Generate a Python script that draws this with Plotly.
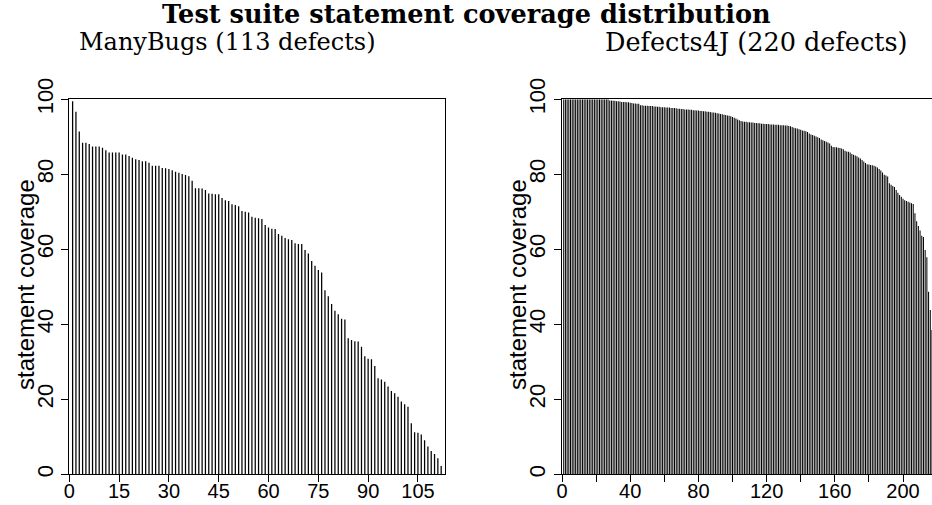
import plotly.graph_objects as go

# ---- data ----
manybugs_ids = list(range(1, 114))
manybugs_cov = [
    99.5, 96.7, 91.4, 88.4, 88.4, 88.1, 87.4, 87.4, 87.4, 87.1,
    86.4, 85.8, 85.8, 85.8, 85.8, 85.3, 85.3, 84.9, 84.4, 84.0,
    83.8, 83.5, 83.5, 83.1, 82.3, 82.3, 82.3, 81.7, 81.6, 81.4,
    81.1, 80.7, 80.4, 80.1, 79.8, 79.5, 78.3, 76.3, 76.3, 76.2,
    75.8, 74.9, 74.8, 74.7, 74.7, 73.7, 73.1, 72.9, 72.0, 71.8,
    71.5, 70.2, 70.0, 69.8, 68.7, 68.4, 68.3, 68.1, 66.5, 65.8,
    65.5, 65.4, 64.1, 63.6, 63.0, 62.7, 62.5, 61.6, 61.4, 61.4,
    59.8, 58.9, 56.9, 55.6, 54.5, 53.8, 49.1, 47.5, 45.4, 43.6,
    42.7, 41.5, 41.3, 36.3, 35.8, 35.5, 35.4, 34.0, 31.5, 30.8,
    30.7, 28.9, 25.6, 25.3, 24.7, 23.4, 22.2, 21.6, 20.7, 19.4,
    18.7, 18.0, 13.6, 11.2, 11.1, 10.6, 9.1, 7.4, 6.2, 5.4,
    4.3, 2.2, 0.0,
]

d4j_ids = list(range(1, 221))
d4j_cov = [
    100, 100, 100, 100, 100, 100, 100, 100, 100, 100,
    100, 100, 100, 100, 100, 100, 100, 100, 100, 100,
    100, 100, 100, 100, 100, 100, 100, 99.7, 99.7, 99.6,
    99.6, 99.5, 99.5, 99.4, 99.3, 99.3, 99.3, 99.2, 99.2, 99.1,
    99.0, 98.9, 98.9, 98.8, 98.8, 98.4, 98.4, 98.3, 98.3, 98.3,
    98.2, 98.2, 98.2, 98.1, 98.1, 98.0, 98.0, 97.9, 97.9, 97.9,
    97.8, 97.8, 97.8, 97.7, 97.7, 97.7, 97.6, 97.5, 97.5, 97.4,
    97.4, 97.3, 97.3, 97.3, 97.2, 97.2, 97.1, 97.1, 97.0, 97.0,
    96.9, 96.9, 96.8, 96.8, 96.7, 96.7, 96.6, 96.5, 96.5, 96.4,
    96.3, 96.2, 96.1, 96.0, 95.9, 95.8, 95.7, 95.6, 95.5, 95.3,
    95.1, 94.9, 94.6, 94.4, 94.2, 94.1, 94.0, 94.0, 93.9, 93.9,
    93.8, 93.8, 93.7, 93.7, 93.6, 93.6, 93.5, 93.5, 93.4, 93.4,
    93.4, 93.3, 93.3, 93.3, 93.2, 93.2, 93.2, 93.1, 93.1, 93.1,
    93.0, 93.0, 92.9, 92.8, 92.6, 92.4, 92.3, 92.2, 92.0, 91.9,
    91.7, 91.6, 91.5, 91.3, 90.9, 90.6, 90.5, 90.3, 90.1, 89.9,
    89.7, 89.3, 89.1, 88.9, 88.7, 88.5, 88.2, 87.6, 87.3, 87.2,
    87.2, 87.1, 87.0, 86.9, 86.7, 86.3, 86.1, 86.0, 85.8, 85.4,
    85.2, 85.0, 84.8, 84.5, 84.2, 83.8, 83.4, 83.0, 82.7, 82.6,
    82.5, 82.4, 82.3, 82.1, 81.8, 81.4, 81.0, 80.5, 79.9, 79.7,
    79.4, 77.6, 77.2, 76.9, 76.6, 75.8, 75.1, 74.5, 74.0, 73.5,
    73.1, 72.9, 72.7, 72.5, 72.3, 72.1, 69.6, 67.5, 66.2, 65.0,
    63.6, 63.3, 59.8, 57.9, 48.7, 43.8, 38.5, 31.0, 22.4, 12.0,
]

left_xticks = [0, 15, 30, 45, 60, 75, 90, 105]
right_xticks = [0, 20, 40, 60, 80, 100, 120, 140, 160, 180, 200]
right_xlabels = ["0", "", "40", "", "80", "", "120", "", "160", "", "200"]
yticks = [0, 20, 40, 60, 80, 100]

title = "Test suite statement coverage distribution"
left_title = "ManyBugs (113 defects)"
right_title = "Defects4J (220 defects)"
ylabel = "statement coverage"

# ---- figure ----
W, H = 932, 505
SANS = "Liberation Sans, Arial, sans-serif"
SERIF = "DejaVu Serif, serif"

fig = go.Figure()
fig.add_trace(go.Bar(x=manybugs_ids, y=manybugs_cov, width=0.38,
                     marker=dict(color="black", line=dict(width=0)),
                     xaxis="x", yaxis="y", showlegend=False))
fig.add_trace(go.Bar(x=d4j_ids, y=d4j_cov, width=0.6,
                     marker=dict(color="black", line=dict(width=0)),
                     xaxis="x2", yaxis="y2", showlegend=False))

ydom = [1 - 474.3 / H, 1 - 99.3 / H]
common_axis = dict(showgrid=False, zeroline=False, showline=True,
                   linecolor="black", linewidth=1, ticks="outside",
                   ticklen=7, tickwidth=1, tickcolor="black", automargin=False)
xlab_font = dict(family=SANS, size=20, color="black")
ylab_font = dict(family=SANS, size=22, color="black")

fig.update_layout(
    width=W, height=H, autosize=False,
    margin=dict(l=0, r=0, t=0, b=0, pad=0, autoexpand=False),
    paper_bgcolor="white", plot_bgcolor="white",
    xaxis=dict(domain=[69.3 / W, 444.5 / W], range=[0, 113],
               tickmode="array", tickvals=left_xticks, tickfont=xlab_font,
               ticklabelstandoff=-8, mirror=True, anchor="y", **common_axis),
    yaxis=dict(domain=ydom, range=[0, 100], tickmode="array", tickvals=yticks,
               tickangle=-90, tickfont=ylab_font,
               mirror=True, anchor="x", **common_axis),
    xaxis2=dict(domain=[562 / W, 1.0], range=[0, (W - 562) / 1.705],
                tickmode="array", tickvals=right_xticks, ticktext=right_xlabels,
                tickfont=xlab_font, ticklabelstandoff=-8,
                mirror=True, anchor="y2", **common_axis),
    yaxis2=dict(domain=ydom, range=[0, 100], tickmode="array", tickvals=yticks,
                tickangle=-90, tickfont=ylab_font,
                mirror=False, anchor="x2", **common_axis),
    annotations=[
        dict(text="<b>" + title + "</b>", x=466 / W, y=1 - 14 / H, xref="paper", yref="paper",
             xanchor="center", yanchor="middle", showarrow=False,
             font=dict(family=SERIF, size=25.6, color="black")),
        dict(text=left_title, x=227 / W, y=1 - 42 / H, xref="paper", yref="paper",
             xanchor="center", yanchor="middle", showarrow=False,
             font=dict(family=SERIF, size=24, color="black")),
        dict(text=right_title, x=756 / W, y=1 - 42 / H, xref="paper", yref="paper",
             xanchor="center", yanchor="middle", showarrow=False,
             font=dict(family=SERIF, size=25.5, color="black")),
        dict(text=ylabel, x=25 / W, y=1 - 285 / H, xref="paper", yref="paper",
             xanchor="center", yanchor="middle", showarrow=False, textangle=-90,
             font=dict(family=SANS, size=24, color="black")),
        dict(text=ylabel, x=517 / W, y=1 - 285 / H, xref="paper", yref="paper",
             xanchor="center", yanchor="middle", showarrow=False, textangle=-90,
             font=dict(family=SANS, size=24, color="black")),
    ],
)

fig.write_html("out.html", config={"staticPlot": True, "responsive": False},
               post_script="document.body.style.margin='0';document.body.style.overflow='hidden';")
